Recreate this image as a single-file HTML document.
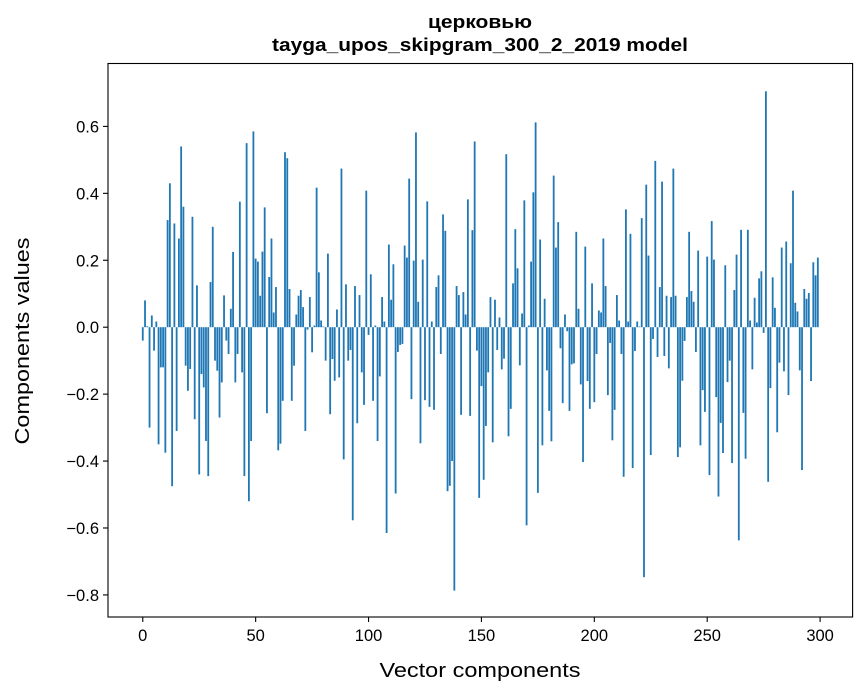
<!DOCTYPE html>
<html><head><meta charset="utf-8">
<style>
html,body{margin:0;padding:0;background:#fff;}
svg{display:block;font-family:"Liberation Sans","DejaVu Sans",sans-serif;}
</style></head>
<body>
<svg id="chart" width="867" height="696" viewBox="0 0 867 696">
<rect width="867" height="696" fill="#fff"/>
<text x="480" y="28" text-anchor="middle" font-size="18" font-weight="bold" textLength="104" lengthAdjust="spacingAndGlyphs">церковью</text>
<text x="480" y="51" text-anchor="middle" font-size="18" font-weight="bold" textLength="416" lengthAdjust="spacingAndGlyphs">tayga_upos_skipgram_300_2_2019 model</text>
<g id="bars"></g>
<g id="axes"></g>
<text x="480" y="677" text-anchor="middle" font-size="20" textLength="201" lengthAdjust="spacingAndGlyphs">Vector components</text>
<text transform="translate(29,341) rotate(-90)" text-anchor="middle" font-size="20" textLength="207" lengthAdjust="spacingAndGlyphs">Components values</text>
</svg>
<script>
const values = [
-0.04,0.08,0.003,-0.30,0.035,-0.07,0.017,-0.35,-0.12,-0.12,
-0.375,0.32,0.43,-0.475,0.31,-0.31,0.265,0.54,0.36,-0.115,
-0.19,-0.125,0.33,-0.275,0.125,-0.44,-0.14,-0.18,-0.34,-0.445,
0.135,0.30,-0.10,-0.13,-0.27,-0.165,0.095,-0.04,-0.08,0.055,
0.225,-0.165,-0.08,0.375,-0.135,-0.445,0.55,-0.52,-0.34,0.585,
0.205,0.196,0.094,0.226,0.358,-0.257,0.15,0.265,0.044,0.12,
-0.368,-0.348,-0.22,0.523,0.505,0.114,-0.22,-0.115,0.038,0.094,
0.111,0.06,-0.31,-0.007,0.09,-0.075,0.005,0.417,0.164,0.02,
0.002,-0.10,0.22,-0.26,-0.095,-0.16,0.053,-0.15,0.474,-0.395,
0.128,-0.10,-0.068,-0.577,0.123,-0.287,0.096,-0.135,-0.232,0.408,
-0.023,0.158,-0.22,0.005,-0.34,-0.147,0.09,0.017,-0.615,0.247,
0.082,0.188,-0.497,-0.074,-0.053,-0.05,0.244,0.208,0.444,-0.215,
0.199,0.582,0.076,-0.347,0.202,-0.218,0.376,-0.238,0.017,-0.247,
0.12,0.155,-0.08,0.337,0.288,-0.49,-0.474,-0.40,-0.787,0.123,
0.096,-0.262,0.105,0.038,0.382,-0.265,0.29,0.555,-0.07,-0.51,
-0.176,-0.456,-0.295,-0.135,0.09,-0.344,0.082,-0.068,0.029,-0.126,
-0.094,0.517,-0.326,-0.244,0.131,0.293,0.176,-0.114,0.041,0.379,
-0.592,0.005,0.196,0.403,0.612,-0.495,0.262,-0.353,0.085,-0.129,
-0.25,-0.341,0.453,0.238,0.314,-0.063,-0.227,0.038,-0.012,-0.25,
-0.111,-0.108,0.285,0.055,-0.171,-0.403,0.241,-0.161,-0.244,0.131,
-0.224,-0.08,0.05,0.044,0.265,0.123,-0.203,-0.047,-0.338,-0.247,
0.096,0.02,-0.08,-0.447,0.352,0.017,0.279,-0.421,-0.071,0.017,
0.002,0.326,-0.747,0.426,0.214,-0.382,-0.035,0.497,-0.089,0.12,
0.435,-0.086,0.094,-0.123,0.09,0.474,0.094,-0.388,-0.359,-0.16,
-0.041,0.09,0.285,0.108,0.076,-0.074,0.229,-0.353,-0.188,-0.253,
0.211,-0.442,0.317,0.202,-0.209,-0.506,-0.286,-0.376,0.185,-0.164,
-0.1,-0.406,0.111,0.217,-0.637,0.291,-0.256,-0.393,0.291,0.02,
-0.126,0.088,0.014,0.146,0.167,-0.017,0.705,-0.462,-0.182,0.149,
0.058,-0.314,-0.106,0.238,-0.132,0.256,-0.203,0.191,0.408,0.073,
0.047,-0.129,-0.427,0.114,0.085,0.102,-0.161,0.194,0.155,0.208
];
const xTicks = [0,50,100,150,200,250,300];
const yTicks = [-0.8,-0.6,-0.4,-0.2,0.0,0.2,0.4,0.6];
const yTickLabels = ["\u22120.8","\u22120.6","\u22120.4","\u22120.2","0.0","0.2","0.4","0.6"];

const L=108, R=852.6, T=63.5, B=617;
const xMin=-15.4, xMax=314.4, yMin=-0.866, yMax=0.788;
const xs = v => L + (v - xMin) / (xMax - xMin) * (R - L);
const ys = v => B - (v - yMin) / (yMax - yMin) * (B - T);
const NS="http://www.w3.org/2000/svg";
const barsG=document.getElementById('bars');
const axesG=document.getElementById('axes');
values.forEach((v,i)=>{
  const r=document.createElementNS(NS,'rect');
  const x0=xs(i-0.4), x1=xs(i+0.4);
  const y0=ys(Math.max(v,0)), y1=ys(Math.min(v,0));
  r.setAttribute('x',x0); r.setAttribute('width',x1-x0);
  r.setAttribute('y',y0); r.setAttribute('height',Math.max(y1-y0,0.3));
  r.setAttribute('fill','#1f77b4');
  
  
  barsG.appendChild(r);
});
const frame=document.createElementNS(NS,'rect');
frame.setAttribute('x',L); frame.setAttribute('y',T);
frame.setAttribute('width',R-L); frame.setAttribute('height',B-T);
frame.setAttribute('fill','none'); frame.setAttribute('stroke','#000'); frame.setAttribute('stroke-width','1.1');


axesG.appendChild(frame);
xTicks.forEach(t=>{
  const x=xs(t);
  const ln=document.createElementNS(NS,'line');
  ln.setAttribute('x1',x); ln.setAttribute('x2',x); ln.setAttribute('y1',B); ln.setAttribute('y2',B+5);
  ln.setAttribute('stroke','#000'); ln.setAttribute('stroke-width','1.1');
  
  
  axesG.appendChild(ln);
  const tx=document.createElementNS(NS,'text');
  tx.setAttribute('x',x); tx.setAttribute('y',B+24); tx.setAttribute('text-anchor','middle'); tx.setAttribute('font-size','16.5');
  tx.textContent=String(t);
  
  
  axesG.appendChild(tx);
});
yTicks.forEach((t,i)=>{
  const y=ys(t);
  const ln=document.createElementNS(NS,'line');
  ln.setAttribute('x1',L-5); ln.setAttribute('x2',L); ln.setAttribute('y1',y); ln.setAttribute('y2',y);
  ln.setAttribute('stroke','#000'); ln.setAttribute('stroke-width','1.1');
  
  
  axesG.appendChild(ln);
  const tx=document.createElementNS(NS,'text');
  tx.setAttribute('x',L-9); tx.setAttribute('y',y+6); tx.setAttribute('text-anchor','end'); tx.setAttribute('font-size','16.5');
  tx.textContent=yTickLabels[i];
  
  
  axesG.appendChild(tx);
});
</script>
</body></html>
